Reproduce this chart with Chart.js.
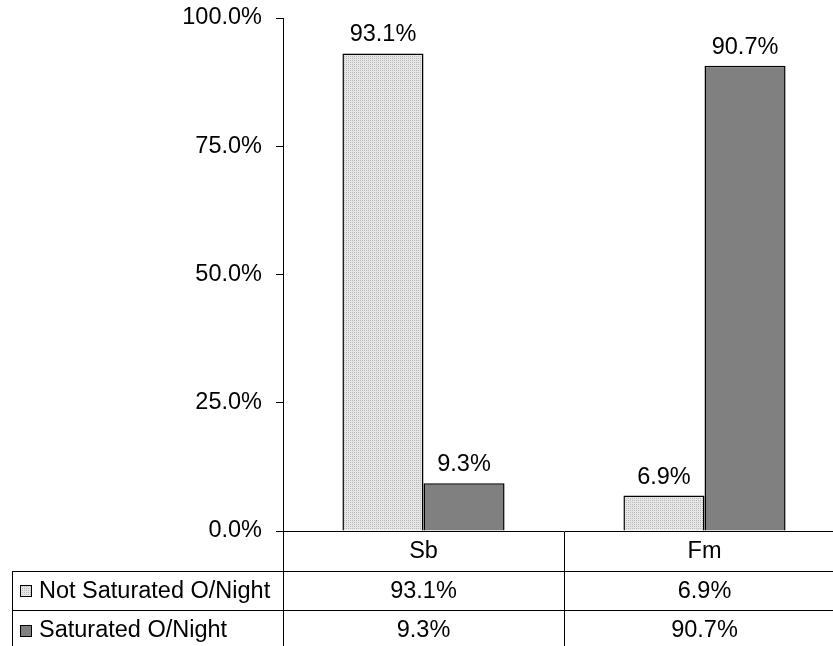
<!DOCTYPE html>
<html>
<head>
<meta charset="utf-8">
<script src="https://cdn.jsdelivr.net/npm/chart.js@4.4.1/dist/chart.umd.min.js"></script>
<style>
  html, body { margin: 0; padding: 0; background: #fff; overflow: hidden; }
</style>
</head>
<body>
<canvas id="chart" width="850" height="646"></canvas>
<script>
const categories = ["Sb", "Fm"];
const seriesNames = ["Not Saturated O/Night", "Saturated O/Night"];
const notSaturated = [93.1, 6.9];
const saturated = [9.3, 90.7];
const yMax = 100;
const yStep = 25;

const FONT = "'Liberation Sans', Arial, sans-serif";
const FONT_SIZE = 23.5;

// light dotted fill like the old excel pattern
function dotPattern() {
  const c = document.createElement("canvas");
  c.width = 2;
  c.height = 2;
  const p = c.getContext("2d");
  p.fillStyle = "#e6e6e6";
  p.fillRect(0, 0, 2, 2);
  p.fillStyle = "#b8b8b8";
  p.fillRect(0, 0, 1, 1);
  return p.createPattern(c, "repeat");
}

const ctx = document.getElementById("chart").getContext("2d");
const fills = [dotPattern(), "#808080"];

const fmt = (v) => v.toFixed(1) + "%";

// value labels above the bars
const barLabels = {
  id: "barLabels",
  afterDatasetsDraw(chart) {
    const { ctx } = chart;
    ctx.save();
    ctx.font = FONT_SIZE + "px " + FONT;
    ctx.fillStyle = "#000";
    ctx.textAlign = "center";
    ctx.textBaseline = "alphabetic";
    chart.data.datasets.forEach((ds, i) => {
      chart.getDatasetMeta(i).data.forEach((bar, j) => {
        ctx.fillText(fmt(ds.data[j]), bar.x, bar.y - 12);
      });
    });
    ctx.restore();
  },
};

// data table under the x axis
const dataTable = {
  id: "dataTable",
  afterDraw(chart) {
    const { ctx, chartArea, scales } = chart;
    const x = scales.x;
    const top = chartArea.bottom;
    const rowH = 39.5;
    const left = 12;
    const right = chart.width;
    const bottom = chart.height;

    ctx.save();
    ctx.strokeStyle = "#000";
    ctx.lineWidth = 1;

    // row separators
    for (let r = 1; r <= 2; r++) {
      const y = Math.round(top + rowH * r) + 0.5;
      ctx.beginPath();
      ctx.moveTo(left, y);
      ctx.lineTo(right, y);
      ctx.stroke();
    }
    // left border and the axis line carried down
    const y1 = Math.round(top + rowH);
    ctx.beginPath();
    ctx.moveTo(left + 0.5, y1);
    ctx.lineTo(left + 0.5, bottom);
    ctx.moveTo(Math.round(chartArea.left) + 0.5, top);
    ctx.lineTo(Math.round(chartArea.left) + 0.5, bottom);
    ctx.stroke();

    ctx.font = FONT_SIZE + "px " + FONT;
    ctx.fillStyle = "#000";
    ctx.textBaseline = "middle";
    ctx.textAlign = "center";

    categories.forEach((c, j) => {
      ctx.fillText(c, x.getPixelForValue(j), top + rowH / 2 + 1);
    });

    const rows = [notSaturated, saturated];
    rows.forEach((vals, i) => {
      const cy = top + rowH * (i + 1) + rowH / 2 + 1;
      ctx.textAlign = "center";
      vals.forEach((v, j) => {
        ctx.fillText(fmt(v), x.getPixelForValue(j), cy);
      });
      // legend swatch + name
      ctx.fillStyle = fills[i];
      ctx.fillRect(20, Math.round(cy) - 6, 12, 12);
      ctx.strokeRect(20.5, Math.round(cy) - 5.5, 11, 11);
      ctx.fillStyle = "#000";
      ctx.textAlign = "left";
      ctx.fillText(seriesNames[i], 39, cy);
    });
    ctx.restore();
  },
};

new Chart(ctx, {
  type: "bar",
  data: {
    labels: categories,
    datasets: [
      {
        label: seriesNames[0],
        data: notSaturated,
        backgroundColor: fills[0],
        borderColor: "#000",
        borderWidth: 1.5,
        borderSkipped: "bottom",
      },
      {
        label: seriesNames[1],
        data: saturated,
        backgroundColor: fills[1],
        borderColor: "#000",
        borderWidth: 1.5,
        borderSkipped: "bottom",
      },
    ],
  },
  options: {
    responsive: false,
    animation: false,
    events: [],
    categoryPercentage: 0.577,
    barPercentage: 1,
    layout: { padding: { left: 0, top: 18, right: 5, bottom: 0 } },
    plugins: {
      legend: { display: false },
      tooltip: { enabled: false },
    },
    scales: {
      x: {
        ticks: { display: false },
        grid: {
          offset: true,
          drawOnChartArea: false,
          tickLength: 115,
          color: "#000",
        },
        border: { color: "#000", width: 1 },
        afterFit(s) {
          s.height = 115;
          s.paddingLeft = 0;
          s.paddingRight = 0;
        },
      },
      y: {
        min: 0,
        max: yMax,
        ticks: {
          stepSize: yStep,
          padding: 14,
          color: "#000",
          font: { family: FONT, size: FONT_SIZE },
          callback: (v) => fmt(v),
        },
        grid: {
          drawOnChartArea: false,
          tickLength: 7,
          color: "#000",
        },
        border: { color: "#000", width: 1 },
        afterFit(s) {
          s.width = 283;
          s.paddingTop = 0;
          s.paddingBottom = 0;
        },
      },
    },
  },
  plugins: [barLabels, dataTable],
});
</script>
</body>
</html>
